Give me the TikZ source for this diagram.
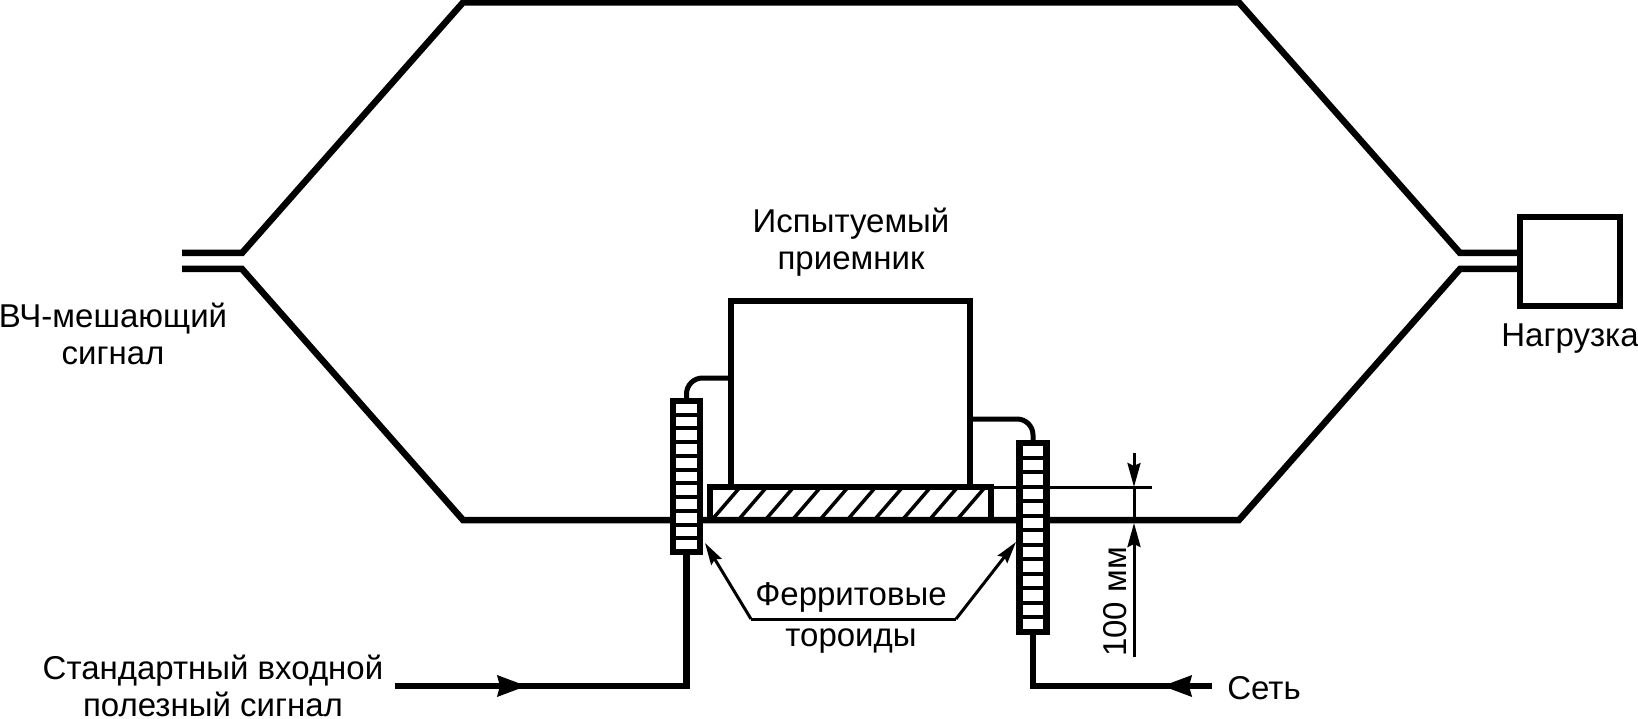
\documentclass[tikz,border=0pt]{standalone}
\usepackage{fontspec}
\setmainfont{Liberation Sans}
\usetikzlibrary{arrows.meta,calc}

\begin{document}
\begin{tikzpicture}[x=1pt,y=-1pt,every node/.style={font=\fontsize{33}{37}\selectfont,align=center,inner sep=0pt,outer sep=0pt},
  wire/.style={line width=6.5pt,line join=miter},
  thinwire/.style={line width=3pt},
  box/.style={draw,fill=white,line width=6.5pt},
  ferrite/.style={box,minimum width=27pt},
  bigtip/.style={-{Stealth[length=29pt,width=20pt,inset=2pt]}},
  dimtip/.style={-{Stealth[length=24pt,width=13pt,inset=3pt]}},
  leadtip/.style={-{Stealth[length=22pt,width=12pt,inset=3pt]}}]
  \useasboundingbox (0,0) rectangle (1638,719);
  % antenna line
  \coordinate (inup) at (182,253);
  \coordinate (inlow) at (182,269);
  \node[box,minimum width=100pt,minimum height=89pt] (load) at (1570,261.5) {};
  \draw[wire] (inup)--(242,253)--(463,2.5)--(1239,2.5)--(1460,253)--(load.west |- inup);
  \draw[wire] (inlow)--(242,269)--(463,520)--(1239,520)--(1460,269)--(load.west |- inlow);
  % receiver on its plate
  \node[box,minimum width=239pt,minimum height=186pt] (dut) at (850.5,394) {};
  \node[draw,line width=6pt,minimum width=281pt,minimum height=33pt] (plate) at (850.5,503.5) {};
  \foreach \x in {713.5,740,767,794,821.5,849,876,904,931,958.5}
    \draw[line width=3.5pt] (\x,518)--(\x+25,489);
  % toroids
  \node[ferrite,minimum height=151pt] (ferleft) at (686.5,476.5) {};
  \node[ferrite,minimum height=189pt] (ferright) at (1033,537.5) {};
  \foreach \i in {1,...,10}
    \draw[line width=4pt] ($(ferleft.north west)!\i/11!(ferleft.south west)$)--($(ferleft.north east)!\i/11!(ferleft.south east)$);
  \foreach \i in {1,...,12}
    \draw[line width=4pt] ($(ferright.north west)!\i/13!(ferright.south west)$)--($(ferright.north east)!\i/13!(ferright.south east)$);
  % leads
  \draw[wire,line width=5pt,rounded corners=16pt] (ferleft.north)|-(dut.west |- 0,378);
  \draw[wire,line width=5pt,rounded corners=16pt] (dut.east |- 0,419)-|(ferright.north);
  \node[anchor=south] (input) at (213,717) {Стандартный входной\\полезный сигнал};
  \coordinate (infeed) at (395,686);
  \coordinate (mains) at (1212,686);
  \draw[wire] (infeed)-|(ferleft.south);
  \draw[wire] (mains)-|(ferright.south);
  \draw[bigtip,wire] (infeed)--(527,686);
  \draw[bigtip,wire] (mains)--(1162,686);
  % labels
  \node at (851,242.5) {Испытуемый\\приемник};
  \node at (113,334) {ВЧ-мешающий\\сигнал};
  \node at (1570,339) {Нагрузка};
  \node[anchor=base] at (1264,699) {Сеть};
  \node (toroids) at (851,618) {Ферритовые\\[4pt]тороиды};
  % toroid leaders
  \coordinate (leada) at (751,619);
  \coordinate (leadb) at (956,619);
  \draw[thinwire] (leada)--(leadb);
  \draw[thinwire,leadtip] (leada)--(705,543);
  \draw[thinwire,leadtip] (leadb)--(1016,542);
  % height dimension
  \coordinate (dimtop) at (1134,453);
  \coordinate (dimlow) at (1134,657);
  \draw[thinwire] (plate.north east)--(1152,487);
  \draw[thinwire] (1134,487)--(1134,520);
  \draw[thinwire,dimtip] (dimtop)--(1134,487);
  \draw[thinwire,dimtip] (dimlow)--(1134,523);
  \node[rotate=90] at (1115,602) {100 мм};
\end{tikzpicture}
\end{document}
